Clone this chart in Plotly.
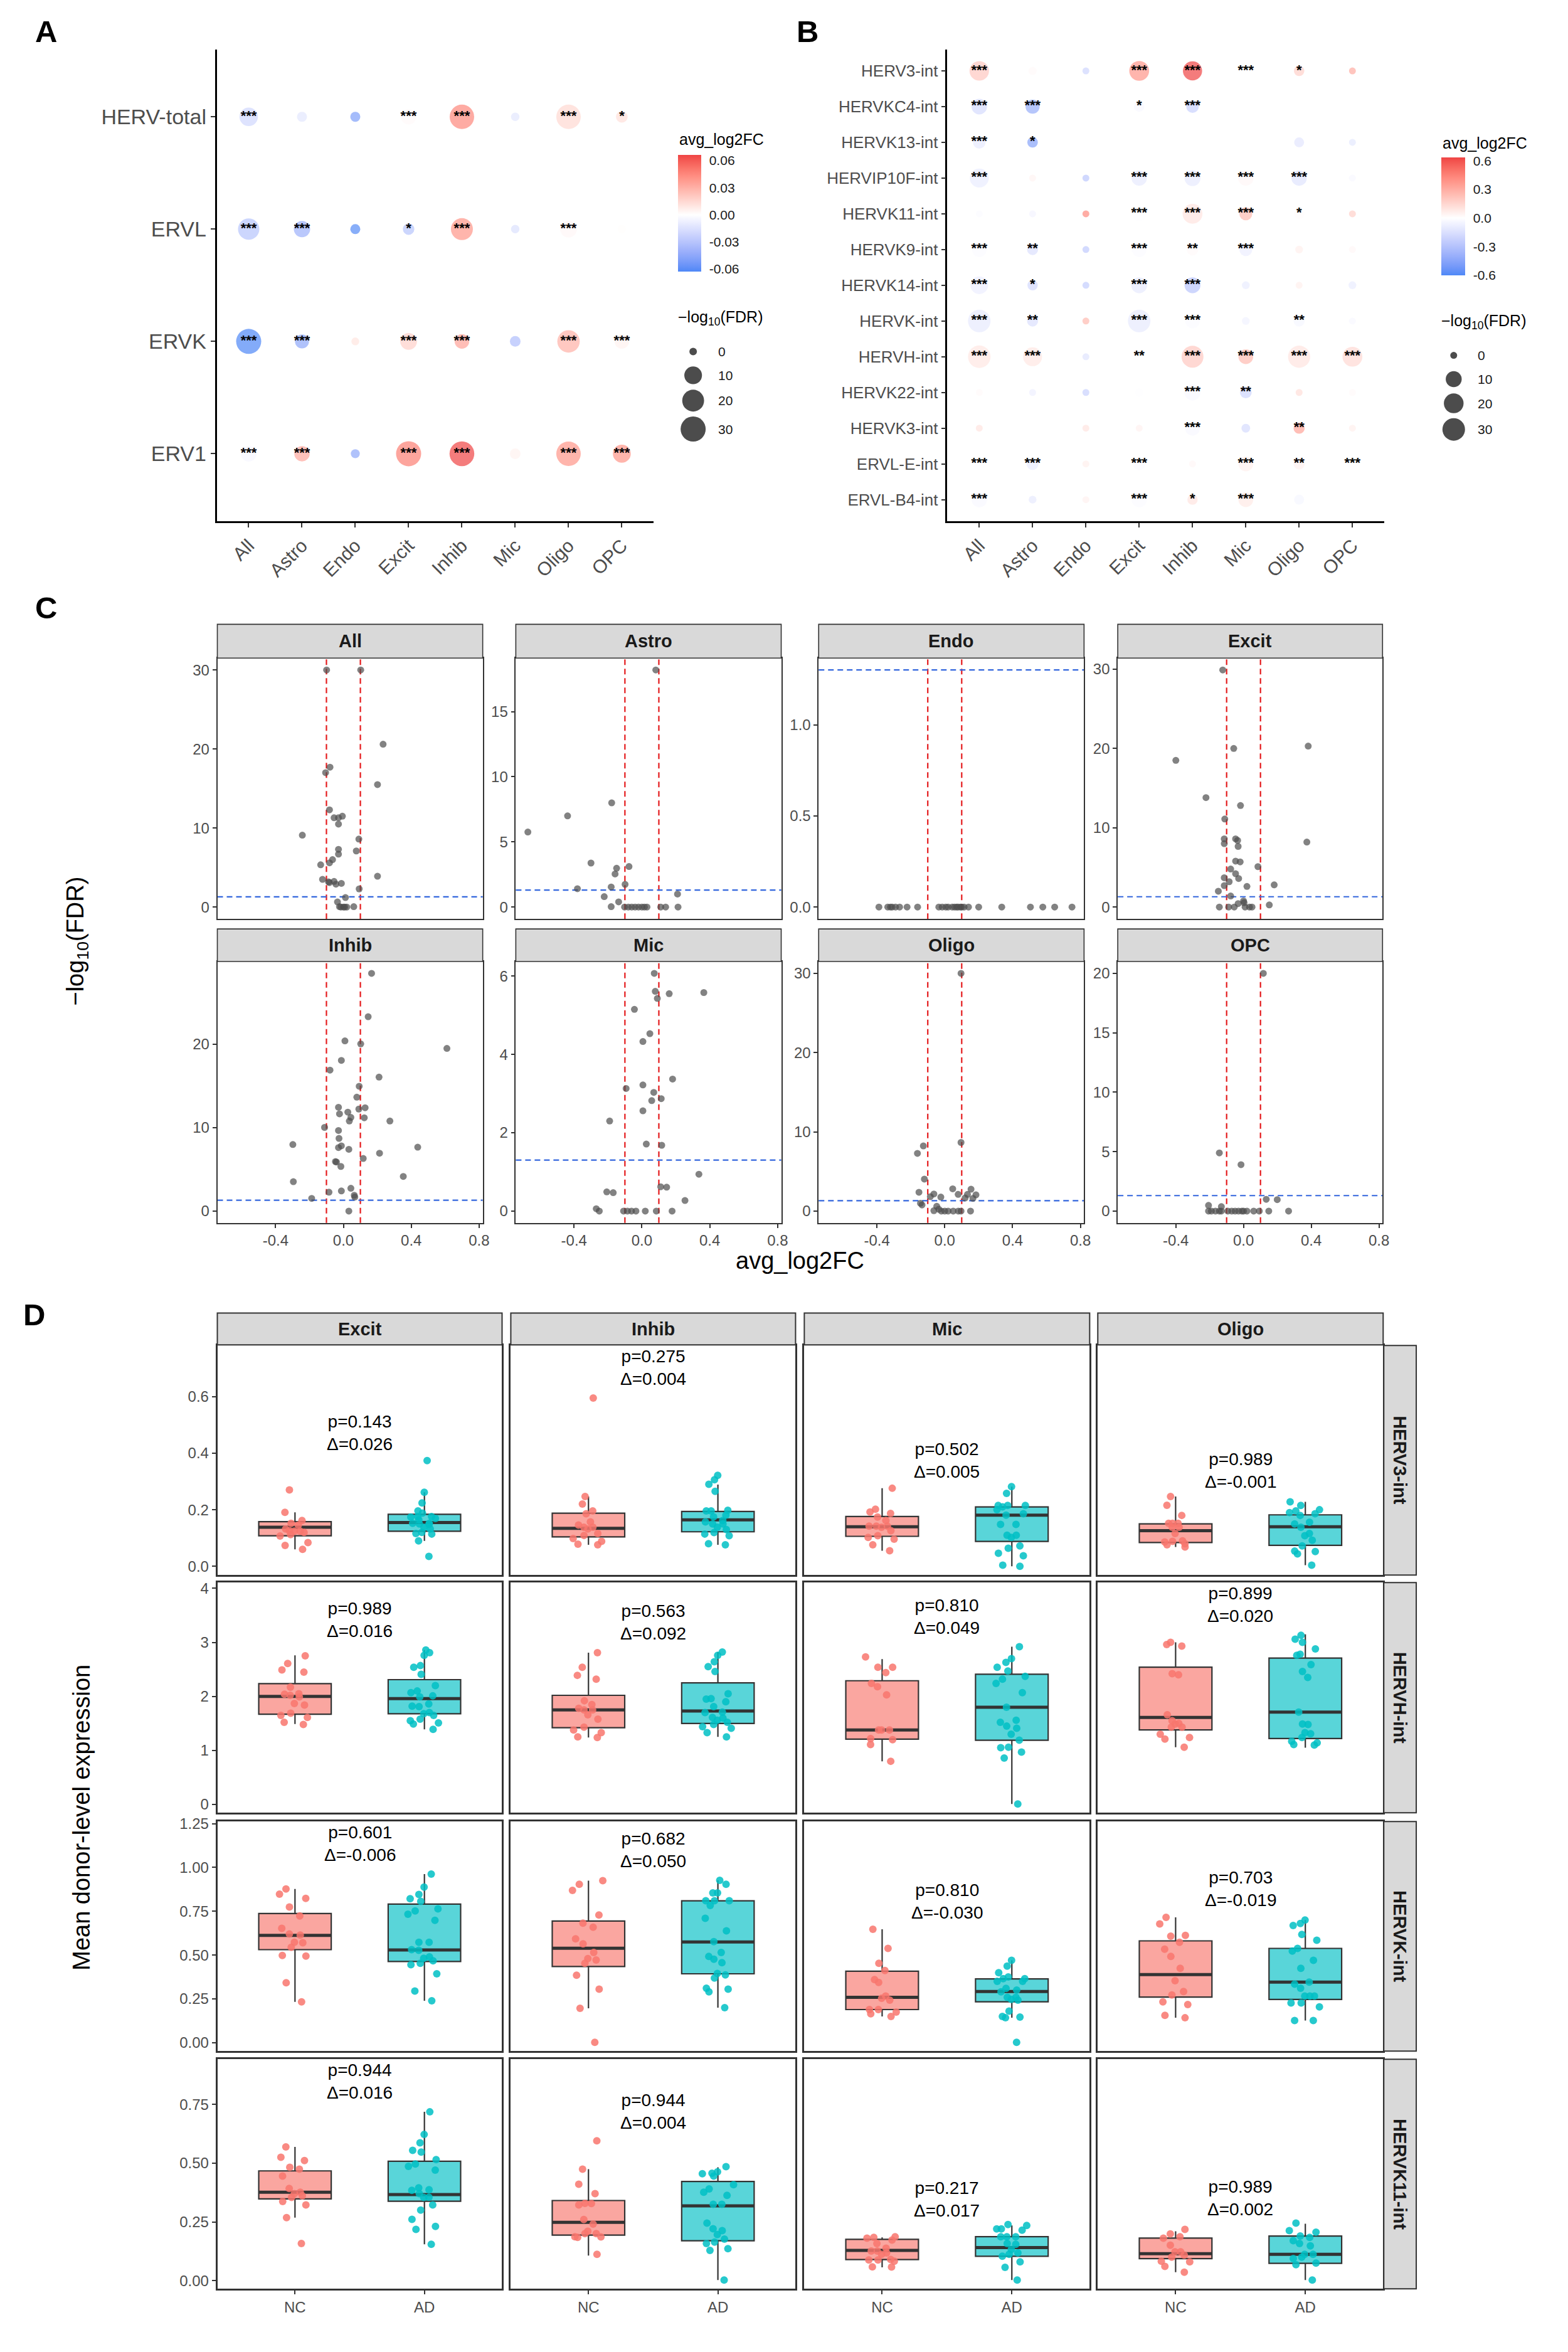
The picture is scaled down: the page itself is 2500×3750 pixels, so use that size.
import numpy as np
import plotly.graph_objects as go

W, H = 2500, 3750
OX, OY = 4, 15   # compensation for page offset
FONT = "Liberation Sans, Arial, Helvetica, sans-serif"
DARK = "#333333"
TICKGRAY = "#4D4D4D"
STRIPTXT = "#1A1A1A"

# ============================ DATA ============================
CELLS = ["All", "Astro", "Endo", "Excit", "Inhib", "Mic", "Oligo", "OPC"]

# ---- Panel A ----
A_families = ["HERV-total", "ERVL", "ERVK", "ERV1"]
A_fc = [
    [-0.020, -0.012, -0.050, 0.002, 0.045, -0.012, 0.015, 0.012],
    [-0.030, -0.040, -0.061, -0.030, 0.040, -0.015, 0.003, 0.001],
    [-0.0628, -0.045, 0.010, 0.018, 0.035, -0.033, 0.030, 0.005],
    [-0.004, 0.033, -0.045, 0.048, 0.0662, 0.005, 0.040, 0.040],
]
A_fdr = [
    [11.7, 0.6, 0.6, 6.0, 27.9, 0.08, 27.9, 1.7],
    [18.5, 7.5, 0.6, 1.5, 20.2, 0.08, 8.4, 0.08],
    [30.0, 4.1, 0.01, 8.4, 4.8, 0.96, 21.5, 4.8],
    [6.5, 6.0, 0.2, 30.0, 28.9, 0.96, 27.9, 10.5],
]
A_sig = [
    ["***", "", "", "***", "***", "", "***", "*"],
    ["***", "***", "", "*", "***", "", "***", ""],
    ["***", "***", "", "***", "***", "", "***", "***"],
    ["***", "***", "", "***", "***", "", "***", "***"],
]
A_fc_ticks = [-0.06, -0.03, 0.0, 0.03, 0.06]
A_fc_ticklabels = ["-0.06", "-0.03", "0.00", "0.03", "0.06"]

# ---- Panel B ----
B_families = ["HERV3-int", "HERVKC4-int", "HERVK13-int", "HERVIP10F-int", "HERVK11-int",
              "HERVK9-int", "HERVK14-int", "HERVK-int", "HERVH-int", "HERVK22-int",
              "HERVK3-int", "ERVL-E-int", "ERVL-B4-int"]
B_fc = [
    [0.20, 0.02, -0.20, 0.38, 0.633, 0.0, 0.17, 0.30],
    [-0.17, -0.40, None, -0.03, -0.22, None, None, None],
    [-0.10, -0.45, None, None, None, None, -0.12, -0.11],
    [-0.09, 0.04, -0.27, -0.10, -0.10, 0.03, -0.13, -0.03],
    [-0.02, -0.05, 0.42, -0.01, 0.10, 0.25, 0.01, 0.17],
    [-0.02, -0.15, -0.25, -0.02, 0.02, -0.08, 0.06, 0.03],
    [-0.08, -0.18, -0.24, -0.10, -0.28, -0.09, 0.06, -0.09],
    [-0.10, -0.15, 0.25, -0.10, -0.02, -0.06, -0.04, -0.03],
    [0.09, 0.09, -0.13, 0.0, 0.20, 0.25, 0.10, 0.14],
    [0.02, -0.07, -0.22, -0.01, -0.03, -0.20, 0.12, 0.02],
    [0.10, 0.0, 0.10, 0.05, -0.03, -0.17, 0.33, 0.06],
    [-0.01, -0.09, 0.06, -0.02, 0.03, 0.06, 0.05, -0.01],
    [-0.03, -0.10, 0.05, -0.02, 0.10, 0.08, -0.04, None],
]
B_fdr = [
    [19.4, 0.2, 0.0, 20.4, 18.4, 6.0, 1.5, 0.0],
    [9.2, 6.3, None, 1.5, 3.9, None, None, None],
    [3.9, 1.6, None, None, None, None, 1.1, 0.0],
    [17.6, 0.0, 0.0, 8.7, 9.9, 8.7, 8.7, 0.0],
    [0.0, 0.0, 0.0, 6.3, 20.4, 4.4, 1.5, 0.0],
    [7.5, 2.13, 0.0, 7.5, 2.85, 4.4, 0.1, 0.0],
    [14.2, 1.4, 0.0, 9.9, 9.9, 0.1, 0.0, 0.1],
    [29.8, 2.13, 0.0, 29.8, 7.5, 0.1, 2.2, 0.0],
    [29.8, 17.6, 0.0, 2.5, 27.5, 7.5, 28.5, 20.4],
    [0.0, 0.0, 0.0, 0.3, 9.9, 2.85, 0.0, 0.0],
    [0.0, 0.0, 0.0, 0.0, 7.5, 0.41, 2.2, 0.0],
    [3.5, 3.2, 0.0, 4.0, 0.0, 7.5, 2.2, 3.2],
    [8.7, 0.1, 0.0, 8.7, 1.4, 7.5, 1.1, None],
]
B_sig = [
    ["***", "", "", "***", "***", "***", "*", ""],
    ["***", "***", None, "*", "***", None, None, None],
    ["***", "*", None, None, None, None, "", ""],
    ["***", "", "", "***", "***", "***", "***", ""],
    ["", "", "", "***", "***", "***", "*", ""],
    ["***", "**", "", "***", "**", "***", "", ""],
    ["***", "*", "", "***", "***", "", "", ""],
    ["***", "**", "", "***", "***", "", "**", ""],
    ["***", "***", "", "**", "***", "***", "***", "***"],
    ["", "", "", "", "***", "**", "", ""],
    ["", "", "", "", "***", "", "**", ""],
    ["***", "***", "", "***", "", "***", "**", "***"],
    ["***", "", "", "***", "*", "***", "", None],
]
B_fc_limits = [-0.6, 0.633]
B_fc_ticks = [-0.6, -0.3, 0.0, 0.3, 0.6]
B_fc_ticklabels = ["-0.6", "-0.3", "0.0", "0.3", "0.6"]

FDR_legend_breaks = [0, 10, 20, 30]

# ---- Panel C (volcano per cell type) ----
C_All_fc = [-0.099, 0.102, 0.234, -0.079, -0.105, 0.201, -0.082, -0.055, -0.029, -0.006, -0.029, -0.242,
            0.091, -0.029, 0.076, -0.029, -0.064, -0.082, -0.134, -0.123, -0.088, -0.055, -0.044, -0.012,
            -0.082, 0.201, 0.093, 0.012, -0.035, -0.023, 0.000, 0.020, 0.061, -0.015, 0.008]
C_All_fdr = [30.0, 30.0, 20.6, 17.7, 17.0, 15.5, 12.3, 11.3, 11.3, 11.5, 10.5, 9.1,
             8.6, 7.3, 7.1, 6.7, 6.0, 5.6, 5.35, 3.5, 3.2, 3.25, 2.9, 3.0,
             3.1, 3.9, 2.3, 1.2, 0.65, 0.05, 0.0, 0.0, 0.05, 0.0, 0.0]
C_Astro_fc = [0.082, -0.178, -0.438, -0.672, -0.300, -0.149, -0.076, -0.158, -0.380, -0.099, -0.181, 0.210,
              -0.222, -0.137, -0.181, -0.102, -0.080, -0.060, -0.040, -0.020, 0.000, 0.015, 0.030, 0.111,
              0.140, 0.213]
C_Astro_fdr = [18.2, 8.0, 7.0, 5.76, 3.38, 2.98, 3.11, 2.54, 1.41, 1.74, 1.54, 1.0,
               0.8, 0.4, 0.03, 0.0, 0.0, 0.0, 0.0, 0.0, 0.0, 0.0, 0.0, 0.0,
               0.0, 0.0]
C_Endo_fc = [-0.388, -0.336, -0.310, -0.290, -0.266, -0.222, -0.160, -0.035, -0.015, 0.006, 0.044, 0.058,
             0.079, 0.093, 0.114, 0.140, 0.200, 0.336, 0.505, 0.578, 0.648, 0.750, -0.320, 0.020,
             0.070, 0.100]
C_Endo_fdr = [0.0, 0.0, 0.0, 0.0, 0.0, 0.0, 0.0, 0.0, 0.0, 0.0, 0.0, 0.0,
              0.0, 0.0, 0.0, 0.0, 0.0, 0.0, 0.0, 0.0, 0.0, 0.0, 0.0, 0.0,
              0.0, 0.0]
C_Excit_fc = [-0.123, 0.382, -0.058, -0.400, -0.222, -0.018, -0.111, -0.114, -0.114, -0.047, -0.035, -0.032,
              0.374, -0.047, -0.020, 0.085, -0.076, -0.047, -0.029, -0.114, -0.085, -0.114, 0.020, 0.181,
              -0.149, -0.076, -0.032, 0.000, 0.003, -0.143, -0.088, -0.055, 0.009, 0.035, 0.050, 0.152]
C_Excit_fdr = [29.9, 20.3, 20.0, 18.5, 13.8, 12.8, 11.1, 8.6, 8.0, 8.6, 8.4, 7.65,
               8.2, 5.8, 5.7, 5.1, 4.8, 4.2, 3.6, 3.7, 3.2, 2.7, 2.6, 2.8,
               2.0, 1.4, 0.44, 0.77, 0.55, 0.0, 0.0, 0.0, 0.0, 0.0, 0.0, 0.27]
C_Inhib_fc = [0.166, 0.146, 0.009, 0.102, 0.610, -0.012, -0.079, 0.210, 0.093, 0.079, -0.029, 0.128,
              0.091, 0.026, -0.023, 0.044, 0.123, 0.035, 0.274, -0.111, -0.029, -0.026, -0.298, -0.012,
              -0.029, 0.032, 0.438, 0.213, 0.117, -0.047, -0.041, -0.015, 0.353, -0.295, 0.044, -0.012,
              -0.085, 0.064, 0.067, -0.187, 0.032]
C_Inhib_fdr = [28.5, 23.3, 20.4, 20.05, 19.5, 18.06, 16.9, 16.06, 14.96, 13.65, 12.44, 12.39,
               12.23, 11.86, 11.65, 11.23, 11.18, 10.8, 10.8, 10.03, 9.66, 8.71, 7.98, 7.82,
               7.61, 7.4, 7.66, 6.93, 6.3, 5.93, 5.88, 5.35, 4.15, 3.52, 2.73, 2.41,
               2.26, 1.89, 1.68, 1.52, 0.0]
C_Mic_fc = [0.073, 0.079, 0.161, 0.365, 0.091, -0.044, 0.047, 0.006, 0.181, -0.093, 0.006, 0.070,
            0.058, 0.114, 0.006, -0.190, 0.026, 0.117, 0.336, 0.111, 0.146, -0.207, -0.169, 0.254,
            -0.269, -0.251, -0.108, -0.085, -0.061, -0.035, 0.020, 0.085, 0.178]
C_Mic_fdr = [6.07, 5.61, 5.55, 5.58, 5.43, 5.15, 4.53, 4.33, 3.37, 3.13, 3.22, 3.03,
             2.82, 2.87, 2.56, 2.3, 1.71, 1.68, 0.94, 0.62, 0.61, 0.49, 0.47, 0.27,
             0.06, 0.0, 0.0, 0.0, 0.0, 0.0, 0.0, 0.0, 0.0]
C_Oligo_fc = [0.096, 0.096, -0.126, -0.161, -0.120, -0.152, 0.047, 0.155, 0.079, -0.064, -0.085, -0.023,
              0.134, 0.120, 0.184, 0.166, -0.143, -0.134, -0.047, -0.064, -0.035, -0.020, 0.000, 0.020,
              0.050, 0.080, 0.096, 0.152]
C_Oligo_fdr = [30.0, 8.66, 8.22, 7.28, 4.03, 2.37, 2.81, 2.76, 2.1, 2.15, 1.82, 1.77,
               2.1, 1.65, 2.04, 1.6, 0.99, 0.77, 0.6, 0.05, 0.22, 0.0, 0.0, 0.0,
               0.0, 0.0, 0.0, 0.0]
C_OPC_fc = [0.117, -0.143, -0.015, 0.134, 0.199, -0.207, -0.131, -0.207, -0.190, -0.166, -0.143, -0.131,
            -0.093, -0.070, -0.050, -0.030, -0.010, 0.000, 0.020, 0.060, 0.093, 0.149, 0.266]
C_OPC_fdr = [20.0, 4.89, 3.9, 0.99, 0.96, 0.48, 0.37, 0.0, 0.0, 0.0, 0.0, 0.0,
             0.0, 0.0, 0.0, 0.0, 0.0, 0.0, 0.0, 0.0, 0.0, 0.0, 0.0]
C_FC_CUT = 0.1
C_FDR_CUT = 0.05
C_x_ticks = [-0.4, 0.0, 0.4, 0.8]
C_x_ticklabels = ["-0.4", "0.0", "0.4", "0.8"]
C_y_dtick = {"All": 10, "Astro": 5, "Endo": 0.5, "Excit": 10, "Inhib": 10, "Mic": 2, "Oligo": 10, "OPC": 5}

# ---- Panel D (donor-level expression) ----
D_genes = ["HERV3-int", "HERVH-int", "HERVK-int", "HERVK11-int"]
D_cells = ["Excit", "Inhib", "Mic", "Oligo"]
D_groups = ["NC", "AD"]

HERV3_NC = {
    "Excit": [0.270, 0.191, 0.162, 0.152, 0.146, 0.132, 0.126, 0.124, 0.124, 0.120, 0.112, 0.107, 0.084, 0.074, 0.060],
    "Inhib": [0.595, 0.247, 0.220, 0.196, 0.186, 0.157, 0.146, 0.138, 0.132, 0.116, 0.098, 0.109, 0.088, 0.076, 0.078, 0.138],
    "Mic": [0.276, 0.202, 0.192, 0.187, 0.174, 0.162, 0.142, 0.142, 0.142, 0.126, 0.108, 0.102, 0.096, 0.076, 0.055, 0.138],
    "Oligo": [0.247, 0.216, 0.180, 0.152, 0.152, 0.152, 0.138, 0.116, 0.090, 0.088, 0.086, 0.080, 0.076, 0.068, 0.138],
}
HERV3_AD = {
    "Excit": [0.374, 0.262, 0.224, 0.196, 0.188, 0.176, 0.169, 0.164, 0.152, 0.152, 0.148, 0.138, 0.132, 0.120,
              0.114, 0.116, 0.090, 0.035, 0.176, 0.150, 0.174],
    "Inhib": [0.322, 0.306, 0.290, 0.265, 0.196, 0.198, 0.196, 0.181, 0.157, 0.175, 0.162, 0.150, 0.130, 0.114,
              0.119, 0.138, 0.080, 0.076, 0.108, 0.150],
    "Mic": [0.282, 0.258, 0.215, 0.215, 0.215, 0.210, 0.200, 0.186, 0.181, 0.148, 0.148, 0.110, 0.110, 0.102,
            0.072, 0.064, 0.046, 0.037, 0.004, 0.000],
    "Oligo": [0.228, 0.215, 0.200, 0.196, 0.190, 0.180, 0.156, 0.138, 0.116, 0.108, 0.092, 0.072, 0.054, 0.044,
              0.052, 0.004, 0.186, 0.150],
}
# box stats: [q1, median, q3, lower whisker, upper whisker]
HERV3_NC_box = {"Excit": [0.108, 0.138, 0.158, 0.060, 0.191], "Inhib": [0.104, 0.134, 0.188, 0.076, 0.247],
                "Mic": [0.106, 0.140, 0.176, 0.055, 0.276], "Oligo": [0.084, 0.126, 0.150, 0.068, 0.247]}
HERV3_AD_box = {"Excit": [0.124, 0.155, 0.184, 0.090, 0.262], "Inhib": [0.122, 0.164, 0.194, 0.076, 0.289],
                "Mic": [0.088, 0.181, 0.210, 0.000, 0.282], "Oligo": [0.074, 0.140, 0.182, 0.004, 0.228]}

HERVH_NC = {
    "Excit": [2.75, 2.61, 2.49, 2.45, 2.17, 2.05, 2.04, 2.02, 1.99, 1.87, 1.84, 1.69, 1.65, 1.61, 1.52, 1.48],
    "Inhib": [2.81, 2.54, 2.39, 2.32, 1.92, 1.85, 1.78, 1.75, 1.75, 1.66, 1.58, 1.43, 1.38, 1.33, 1.25, 1.24],
    "Mic": [2.73, 2.54, 2.54, 2.44, 2.24, 2.18, 2.03, 1.38, 1.38, 1.38, 1.22, 1.20, 1.11, 0.80],
    "Oligo": [3.00, 2.96, 2.93, 2.42, 2.40, 1.66, 1.55, 1.50, 1.43, 1.30, 1.24, 1.21, 1.06, 1.43, 1.49],
}
HERVH_AD = {
    "Excit": [2.86, 2.81, 2.76, 2.57, 2.54, 2.41, 2.20, 2.10, 2.07, 1.99, 2.01, 1.86, 1.81, 1.82, 1.70, 1.68,
              1.65, 1.58, 1.55, 1.51, 1.39, 1.49],
    "Inhib": [2.82, 2.76, 2.64, 2.55, 2.46, 2.05, 1.95, 1.96, 1.90, 1.81, 1.71, 1.70, 1.60, 1.56, 1.52, 1.48,
              1.44, 1.41, 1.33, 1.25, 1.61],
    "Mic": [2.92, 2.70, 2.63, 2.54, 2.47, 2.37, 2.32, 2.24, 2.07, 1.80, 1.56, 1.45, 1.41, 1.30, 1.19, 1.05,
            1.06, 0.97, 0.86, 0.01, 1.52],
    "Oligo": [3.13, 3.06, 3.00, 2.88, 2.78, 2.76, 2.59, 2.46, 2.35, 1.71, 1.49, 1.48, 1.33, 1.31, 1.14, 1.11,
              1.10, 1.17, 1.24],
}
HERVH_NC_box = {"Excit": [1.67, 2.00, 2.236, 1.49, 2.76], "Inhib": [1.42, 1.75, 2.02, 1.24, 2.81],
                "Mic": [1.21, 1.38, 2.29, 0.80, 2.69], "Oligo": [1.38, 1.61, 2.54, 1.06, 3.00]}
HERVH_AD_box = {"Excit": [1.68, 1.96, 2.31, 1.39, 2.86], "Inhib": [1.50, 1.73, 2.25, 1.25, 2.82],
                "Mic": [1.19, 1.80, 2.41, 0.01, 2.92], "Oligo": [1.22, 1.71, 2.71, 1.05, 3.15]}

HERVK_NC = {
    "Excit": [0.877, 0.848, 0.824, 0.774, 0.723, 0.653, 0.620, 0.614, 0.573, 0.570, 0.544, 0.494, 0.498, 0.342, 0.233],
    "Inhib": [0.925, 0.904, 0.869, 0.729, 0.682, 0.659, 0.593, 0.564, 0.515, 0.480, 0.472, 0.453, 0.385, 0.305,
              0.196, 0.002],
    "Mic": [0.647, 0.538, 0.453, 0.412, 0.344, 0.360, 0.266, 0.253, 0.189, 0.189, 0.165, 0.150, 0.175, 0.243],
    "Oligo": [0.715, 0.678, 0.612, 0.608, 0.573, 0.534, 0.492, 0.424, 0.354, 0.292, 0.272, 0.233, 0.218, 0.142, 0.156],
}
HERVK_AD = {
    "Excit": [0.962, 0.888, 0.846, 0.807, 0.822, 0.764, 0.752, 0.733, 0.698, 0.573, 0.573, 0.531, 0.527, 0.490,
              0.482, 0.467, 0.453, 0.445, 0.393, 0.295, 0.239],
    "Inhib": [0.927, 0.904, 0.855, 0.855, 0.810, 0.810, 0.810, 0.783, 0.710, 0.638, 0.577, 0.515, 0.492, 0.476,
              0.457, 0.395, 0.387, 0.369, 0.305, 0.311, 0.290, 0.200],
    "Mic": [0.470, 0.437, 0.399, 0.365, 0.365, 0.375, 0.350, 0.350, 0.290, 0.300, 0.310, 0.259, 0.247, 0.259,
            0.243, 0.180, 0.146, 0.150, 0.142, 0.002],
    "Oligo": [0.700, 0.680, 0.669, 0.618, 0.585, 0.538, 0.523, 0.470, 0.424, 0.346, 0.334, 0.311, 0.266, 0.266,
              0.266, 0.227, 0.227, 0.204, 0.126, 0.126],
}
HERVK_NC_box = {"Excit": [0.531, 0.612, 0.737, 0.233, 0.877], "Inhib": [0.435, 0.539, 0.694, 0.196, 0.925],
                "Mic": [0.189, 0.259, 0.408, 0.150, 0.647], "Oligo": [0.260, 0.389, 0.581, 0.142, 0.715]}
HERVK_AD_box = {"Excit": [0.463, 0.529, 0.791, 0.239, 0.962], "Inhib": [0.393, 0.575, 0.810, 0.200, 0.927],
                "Mic": [0.233, 0.292, 0.364, 0.142, 0.470], "Oligo": [0.247, 0.346, 0.538, 0.126, 0.700]}

HERVK11_NC = {
    "Excit": [0.569, 0.525, 0.511, 0.482, 0.474, 0.445, 0.392, 0.370, 0.376, 0.354, 0.337, 0.322, 0.268, 0.158, 0.361],
    "Inhib": [0.595, 0.474, 0.410, 0.370, 0.328, 0.329, 0.322, 0.260, 0.241, 0.210, 0.200, 0.200, 0.187, 0.184,
              0.186, 0.112],
    "Mic": [0.187, 0.181, 0.184, 0.173, 0.158, 0.138, 0.126, 0.118, 0.126, 0.112, 0.090, 0.088, 0.088, 0.083,
            0.058, 0.059],
    "Oligo": [0.218, 0.199, 0.187, 0.181, 0.151, 0.123, 0.123, 0.109, 0.100, 0.083, 0.080, 0.061, 0.036],
}
HERVK11_AD = {
    "Excit": [0.718, 0.622, 0.586, 0.554, 0.547, 0.515, 0.496, 0.486, 0.470, 0.395, 0.384, 0.370, 0.354, 0.355,
              0.322, 0.300, 0.261, 0.231, 0.218, 0.155, 0.387],
    "Inhib": [0.485, 0.457, 0.445, 0.463, 0.455, 0.408, 0.390, 0.376, 0.363, 0.325, 0.325, 0.245, 0.221, 0.213,
              0.196, 0.177, 0.164, 0.158, 0.129, 0.136, 0.003],
    "Mic": [0.239, 0.235, 0.220, 0.220, 0.215, 0.187, 0.187, 0.187, 0.158, 0.155, 0.112, 0.118, 0.104, 0.133,
            0.080, 0.057, 0.003],
    "Oligo": [0.245, 0.213, 0.206, 0.190, 0.184, 0.170, 0.158, 0.148, 0.112, 0.094, 0.075, 0.112, 0.100, 0.003, 0.068],
}
HERVK11_NC_box = {"Excit": [0.348, 0.376, 0.467, 0.268, 0.569], "Inhib": [0.194, 0.248, 0.341, 0.107, 0.474],
                  "Mic": [0.090, 0.129, 0.176, 0.057, 0.184], "Oligo": [0.094, 0.115, 0.181, 0.036, 0.210]}
HERVK11_AD_box = {"Excit": [0.338, 0.366, 0.508, 0.155, 0.718], "Inhib": [0.170, 0.318, 0.422, 0.003, 0.482],
                  "Mic": [0.104, 0.141, 0.187, 0.003, 0.235], "Oligo": [0.074, 0.112, 0.190, 0.003, 0.242]}

D_p = {"HERV3-int": ["0.143", "0.275", "0.502", "0.989"],
       "HERVH-int": ["0.989", "0.563", "0.810", "0.899"],
       "HERVK-int": ["0.601", "0.682", "0.810", "0.703"],
       "HERVK11-int": ["0.944", "0.944", "0.217", "0.989"]}
D_delta = {"HERV3-int": ["0.026", "0.004", "0.005", "-0.001"],
           "HERVH-int": ["0.016", "0.092", "0.049", "0.020"],
           "HERVK-int": ["-0.006", "0.050", "-0.030", "-0.019"],
           "HERVK11-int": ["0.016", "0.004", "0.017", "0.002"]}

# assembled lookup tables built from the arrays above
D_points = {"HERV3-int": (HERV3_NC, HERV3_AD), "HERVH-int": (HERVH_NC, HERVH_AD),
            "HERVK-int": (HERVK_NC, HERVK_AD), "HERVK11-int": (HERVK11_NC, HERVK11_AD)}
D_boxes = {"HERV3-int": (HERV3_NC_box, HERV3_AD_box), "HERVH-int": (HERVH_NC_box, HERVH_AD_box),
           "HERVK-int": (HERVK_NC_box, HERVK_AD_box), "HERVK11-int": (HERVK11_NC_box, HERVK11_AD_box)}
C_data = {"All": (C_All_fc, C_All_fdr), "Astro": (C_Astro_fc, C_Astro_fdr), "Endo": (C_Endo_fc, C_Endo_fdr),
          "Excit": (C_Excit_fc, C_Excit_fdr), "Inhib": (C_Inhib_fc, C_Inhib_fdr), "Mic": (C_Mic_fc, C_Mic_fdr),
          "Oligo": (C_Oligo_fc, C_Oligo_fdr), "OPC": (C_OPC_fc, C_OPC_fdr)}

# ============================ STYLE / GEOMETRY ============================
LOW_COL, HIGH_COL = "#3B82F6", "#EF4444"
_M = np.array([[0.4124564, 0.3575761, 0.1804375],
               [0.2126729, 0.7151522, 0.0721750],
               [0.0193339, 0.1191920, 0.9503041]])
_MINV = np.linalg.inv(_M)
_WP = np.array([0.95047, 1.0, 1.08883])


def _hex2rgb(h):
    h = h.lstrip("#")
    return np.array([int(h[i:i + 2], 16) for i in (0, 2, 4)]) / 255.0


def _rgb2lab(rgb):
    c = np.where(rgb <= 0.04045, rgb / 12.92, ((rgb + 0.055) / 1.055) ** 2.4)
    t = (_M @ c) / _WP
    d = 6 / 29
    f = np.where(t > d ** 3, np.cbrt(t), t / (3 * d * d) + 4 / 29)
    return np.array([116 * f[1] - 16, 500 * (f[0] - f[1]), 200 * (f[1] - f[2])])


def _lab2rgb(lab):
    L, a, b = lab
    fy = (L + 16) / 116
    f = np.array([fy + a / 500, fy, fy - b / 200])
    d = 6 / 29
    t = np.where(f > d, f ** 3, 3 * d * d * (f - 4 / 29))
    c = np.clip(_MINV @ (t * _WP), 0, 1)
    return np.where(c <= 0.0031308, 12.92 * c, 1.055 * c ** (1 / 2.4) - 0.055)


_WHITE_LAB = _rgb2lab(np.array([1.0, 1.0, 1.0]))


def grad2(v, maxabs):
    t = max(-1.0, min(1.0, v / maxabs))
    end = _rgb2lab(_hex2rgb(LOW_COL if t < 0 else HIGH_COL))
    rgb = _lab2rgb(_WHITE_LAB + (end - _WHITE_LAB) * abs(t))
    r, g, b = np.round(rgb * 255).astype(int)
    return f"rgb({r},{g},{b})"


def gradient2_scale(cmin, cmax):
    maxabs = max(abs(cmin), abs(cmax))
    vals = np.unique(np.concatenate([np.linspace(cmin, cmax, 41), [0.0]]))
    return [[float((v - cmin) / (cmax - cmin)), grad2(v, maxabs)] for v in vals]


def dot_diam(v, dmin, dmax, vmax=30.0):
    return dmin + (dmax - dmin) * np.sqrt(np.clip(v, 0, vmax) / vmax)


def PX(x):
    return (x - OX) / W


def PY(y):
    return 1 - (y - OY) / H


layout = dict(width=W, height=H, autosize=False, margin=dict(l=0, r=0, t=0, b=0, pad=0),
              paper_bgcolor="white", plot_bgcolor="rgba(0,0,0,0)", showlegend=False,
              boxmode="overlay", font=dict(family=FONT, color="black"))
annotations = []
shapes = []
traces = []
_axn = [0]


def new_axes(xd, yd, xkw, ykw, raw=False):
    _axn[0] += 1
    n = _axn[0]
    s = "" if n == 1 else str(n)
    base = dict(showgrid=False, zeroline=False, fixedrange=True)
    if raw:
        xdom, ydom = [0, 1], [0, 1]
    else:
        xdom = [PX(xd[0]), PX(xd[1])]
        ydom = [PY(yd[1]), PY(yd[0])]
    layout["xaxis" + s] = dict(domain=xdom, anchor="y" + s, **base, **xkw)
    layout["yaxis" + s] = dict(domain=ydom, anchor="x" + s, **base, **ykw)
    return "x" + s, "y" + s


def text(x, y, s, size, xanchor="center", yanchor="middle", angle=0, color="black"):
    annotations.append(dict(x=PX(x), y=PY(y), xref="paper", yref="paper", text=s, showarrow=False,
                            xanchor=xanchor, yanchor=yanchor, textangle=angle,
                            font=dict(family=FONT, size=size, color=color)))


def rect(x0, y0, x1, y1, fill, lw=1.6):
    shapes.append(dict(type="rect", xref="paper", yref="paper", x0=PX(x0), x1=PX(x1), y0=PY(y1), y1=PY(y0),
                       fillcolor=fill, line=dict(color=DARK, width=lw), layer="above"))


# ============================ PANELS A & B ============================
def dot_panel(families, fc, fdr, sig, xdom, ydom, ylabsize, climits, cticks, cticklabels,
              dmin, dmax, cbar_px):
    nrow = len(families)
    xa, ya = new_axes(
        xdom, ydom,
        dict(range=[-0.6, len(CELLS) - 1 + 0.6], tickmode="array", tickvals=list(range(len(CELLS))),
             ticktext=CELLS, tickangle=-45, tickfont=dict(size=30, color=TICKGRAY, family=FONT),
             showline=True, linecolor="black", linewidth=2.5, ticks="outside", ticklen=7, tickwidth=2,
             tickcolor=DARK),
        dict(range=[nrow - 1 + 0.6, -0.6], tickmode="array", tickvals=list(range(nrow)), ticktext=families,
             tickfont=dict(size=ylabsize, color=TICKGRAY, family=FONT), showline=True, linecolor="black",
             linewidth=2.5, ticks="outside", ticklen=7, tickwidth=2, tickcolor=DARK))
    xs, ys, cs, ss, tx, ty, tt = [], [], [], [], [], [], []
    for i in range(nrow):
        for j in range(len(CELLS)):
            if fc[i][j] is None:
                continue
            xs.append(j)
            ys.append(i)
            cs.append(fc[i][j])
            ss.append(float(dot_diam(fdr[i][j], dmin, dmax)))
            if sig[i][j]:
                tx.append(j)
                ty.append(i)
                tt.append("<b>" + sig[i][j] + "</b>")
    cmin, cmax = climits
    cb = dict(x=PX(cbar_px[0]), xanchor="left", y=PY((cbar_px[1] + cbar_px[2]) / 2), yanchor="middle",
              len=cbar_px[2] - cbar_px[1], lenmode="pixels", thickness=cbar_px[3], thicknessmode="pixels",
              outlinewidth=0, tickmode="array", tickvals=cticks, ticktext=cticklabels,
              tickfont=dict(size=21, color=STRIPTXT, family=FONT), ticks="outside", ticklen=9,
              tickcolor="rgba(255,255,255,0)", tickwidth=1, xpad=0, ypad=0, title=dict(text=""))
    traces.append(go.Scatter(x=xs, y=ys, mode="markers", xaxis=xa, yaxis=ya, hoverinfo="skip",
                             marker=dict(size=ss, color=cs, colorscale=gradient2_scale(cmin, cmax),
                                         cmin=cmin, cmax=cmax, line=dict(width=0), showscale=True,
                                         colorbar=cb)))
    traces.append(go.Scatter(x=tx, y=ty, text=tt, mode="text", xaxis=xa, yaxis=ya, hoverinfo="skip",
                             textposition="middle center",
                             textfont=dict(size=22, color="black", family=FONT)))


a_cmin = min(v for row in A_fc for v in row)
a_cmax = max(v for row in A_fc for v in row)
dot_panel(A_families, A_fc, A_fdr, A_sig, (343, 1043), (76, 830), 34, (a_cmin, a_cmax),
          A_fc_ticks, A_fc_ticklabels, 12, 40, (1082, 245, 431, 37))
dot_panel(B_families, B_fc, B_fdr, B_sig, (1513, 2213), (76, 830), 26, tuple(B_fc_limits),
          B_fc_ticks, B_fc_ticklabels, 11, 36, (2304, 249, 437, 38))

# size legends (overlay axis in page-pixel units)
lx, ly = new_axes(None, None, dict(range=[OX, W + OX], visible=False),
                  dict(range=[H + OY, OY], visible=False), raw=True)
for (x0, ytop, dmin, dmax, labx) in [(1106, 540, 12, 40, 1144), (2324, 546, 11, 36, 2360)]:
    dd = [float(dot_diam(b, dmin, dmax)) for b in FDR_legend_breaks]
    centers, cur = [], ytop
    for d in dd:
        hgt = max(d + 8, 38)
        centers.append(cur + hgt / 2)
        cur += hgt
    traces.append(go.Scatter(x=[x0] * len(dd), y=centers, mode="markers", xaxis=lx, yaxis=ly,
                             hoverinfo="skip", marker=dict(size=dd, color="black", line=dict(width=0))))
    for b, cy in zip(FDR_legend_breaks, centers):
        text(labx, cy, str(b), 21, xanchor="left", color=STRIPTXT)

text(1082, 220, "avg_log2FC", 25, xanchor="left")
text(2304, 226, "avg_log2FC", 25, xanchor="left")
text(1080, 505, "\u2212log<sub>10</sub>(FDR)", 25, xanchor="left")
text(2302, 511, "\u2212log<sub>10</sub>(FDR)", 25, xanchor="left")

# ============================ PANEL C ============================
C_cols = [(344, 769), (822, 1247), (1307, 1732), (1786, 2210)]
C_panels = [(1049, 1466), (1534, 1952)]
C_strips = [(995, 1049), (1482, 1534)]
fdr_line = -np.log10(C_FDR_CUT)
all_fc = np.concatenate([np.array(C_data[c][0]) for c in CELLS])
xr = all_fc.max() - all_fc.min()
c_xrange = [all_fc.min() - 0.05 * xr, all_fc.max() + 0.05 * xr]
for k, cell in enumerate(CELLS):
    r, c = divmod(k, 4)
    fc, fdr = np.array(C_data[cell][0]), np.array(C_data[cell][1])
    lo = min(0.0, fdr.min())
    hi = max(fdr.max(), fdr_line)
    yr = hi - lo
    bottom = (r == 1)
    xa, ya = new_axes(
        C_cols[c], C_panels[r],
        dict(range=c_xrange, tickmode="array", tickvals=C_x_ticks, ticktext=C_x_ticklabels,
             showticklabels=bottom, ticks="outside" if bottom else "", ticklen=6, tickwidth=1.5,
             tickcolor=DARK, tickfont=dict(size=24, color=TICKGRAY, family=FONT),
             showline=True, mirror=True, linecolor=DARK, linewidth=1.6),
        dict(range=[lo - 0.05 * yr, hi + 0.05 * yr], tick0=0, dtick=C_y_dtick[cell],
             tickformat=".1f" if C_y_dtick[cell] < 1 else "d", ticks="outside", ticklen=6, tickwidth=1.5,
             tickcolor=DARK, tickfont=dict(size=24, color=TICKGRAY, family=FONT),
             showline=True, mirror=True, linecolor=DARK, linewidth=1.6))
    for xv in (-C_FC_CUT, C_FC_CUT):
        shapes.append(dict(type="line", xref=xa, yref=ya + " domain", x0=xv, x1=xv, y0=0, y1=1,
                           line=dict(color="#E41A1C", width=2.2, dash="9px,6px"), layer="below"))
    shapes.append(dict(type="line", xref=xa + " domain", yref=ya, x0=0, x1=1, y0=fdr_line, y1=fdr_line,
                       line=dict(color="#3366DD", width=2.2, dash="9px,6px"), layer="below"))
    traces.append(go.Scatter(x=fc, y=fdr, mode="markers", xaxis=xa, yaxis=ya, hoverinfo="skip",
                             marker=dict(size=11, color="rgba(77,77,77,0.7)", line=dict(width=0))))
    sx0, sx1 = C_cols[c]
    sy0, sy1 = C_strips[r]
    rect(sx0, sy0, sx1, sy1, "#D9D9D9", 1.6)
    text((sx0 + sx1) / 2, (sy0 + sy1) / 2, f"<b>{cell}</b>", 29, color=STRIPTXT)

text(1277, 2012, "avg_log2FC", 38)
text(120, 1501, "\u2212log<sub>10</sub>(FDR)", 38, angle=-90)

# ============================ PANEL D ============================
D_cols = [(344, 800), (814, 1270), (1284, 1741), (1754, 2211)]
D_rows = [(2148, 2515), (2527, 2895), (2909, 3276), (3289, 3656)]
D_strip_top = (2096, 2147)
D_strip_right = (2212, 2264)
D_tick = {"HERV3-int": (0.2, ".1f"), "HERVH-int": (1, "d"), "HERVK-int": (0.25, ".2f"),
          "HERVK11-int": (0.25, ".2f")}
BOXW = 0.56
FILL = {"NC": "rgba(248,118,109,0.65)", "AD": "rgba(0,191,196,0.65)"}
PTCOL = {"NC": "#F8766D", "AD": "#00BFC4"}

for r, gene in enumerate(D_genes):
    nc_pts, ad_pts = D_points[gene]
    nc_box, ad_box = D_boxes[gene]
    lab_y = [1.05 * max(nc_pts[c] + ad_pts[c]) for c in D_cells]
    row_min = min(min(nc_pts[c] + ad_pts[c]) for c in D_cells)
    top = max(lab_y)
    rr = top - row_min
    yrange = [row_min - 0.05 * rr, top + 0.25 * rr]
    dt, fmt = D_tick[gene]
    for c, cell in enumerate(D_cells):
        left = (c == 0)
        bottom = (r == len(D_genes) - 1)
        xa, ya = new_axes(
            D_cols[c], D_rows[r],
            dict(range=[-0.6, 1.6], tickmode="array", tickvals=[0, 1], ticktext=D_groups,
                 showticklabels=bottom, ticks="outside" if bottom else "", ticklen=6, tickwidth=1.5,
                 tickcolor=DARK, tickfont=dict(size=24, color=TICKGRAY, family=FONT),
                 showline=True, mirror=True, linecolor=DARK, linewidth=2.5),
            dict(range=yrange, tick0=0, dtick=dt, tickformat=fmt, showticklabels=left,
                 ticks="outside" if left else "", ticklen=6, tickwidth=1.5, tickcolor=DARK,
                 tickfont=dict(size=24, color=TICKGRAY, family=FONT),
                 showline=True, mirror=True, linecolor=DARK, linewidth=2.5))
        for gi, (grp, pts, box) in enumerate([("NC", nc_pts[cell], nc_box[cell]),
                                               ("AD", ad_pts[cell], ad_box[cell])]):
            q1, med, q3, wlo, whi = box
            traces.append(go.Box(x=[gi], q1=[q1], median=[med], q3=[q3], lowerfence=[wlo], upperfence=[whi],
                                 width=BOXW, whiskerwidth=0, boxpoints=False, fillcolor=FILL[grp],
                                 line=dict(color=DARK, width=2.2), xaxis=xa, yaxis=ya, hoverinfo="skip"))
            traces.append(go.Box(x=[gi], q1=[med], median=[med], q3=[med], lowerfence=[med], upperfence=[med],
                                 width=BOXW, whiskerwidth=0, boxpoints=False, fillcolor="rgba(0,0,0,0)",
                                 line=dict(color=DARK, width=5), xaxis=xa, yaxis=ya, hoverinfo="skip"))
            traces.append(go.Box(x=[gi] * len(pts), y=pts, width=BOXW, boxpoints="all", jitter=0.5,
                                 pointpos=0, fillcolor="rgba(0,0,0,0)",
                                 line=dict(color="rgba(0,0,0,0)", width=0), whiskerwidth=0,
                                 marker=dict(color=PTCOL[grp], size=12, opacity=0.85, line=dict(width=0)),
                                 xaxis=xa, yaxis=ya, hoverinfo="skip"))
        annotations.append(dict(x=0.5, y=lab_y[c], xref=xa, yref=ya, showarrow=False, xanchor="center",
                                yanchor="bottom",
                                text=f"p={D_p[gene][c]}<br>\u0394={D_delta[gene][c]}",
                                font=dict(family=FONT, size=28, color="black")))
        if r == 0:
            sx0, sx1 = D_cols[c]
            rect(sx0, D_strip_top[0], sx1, D_strip_top[1], "#D9D9D9", 2.0)
            text((sx0 + sx1) / 2, sum(D_strip_top) / 2, f"<b>{cell}</b>", 29, color=STRIPTXT)
    ry0, ry1 = D_rows[r]
    rect(D_strip_right[0], ry0, D_strip_right[1], ry1, "#D9D9D9", 2.0)
    text(sum(D_strip_right) / 2, (ry0 + ry1) / 2, f"<b>{gene}</b>", 29, angle=90, color=STRIPTXT)

text(127, 2902, "Mean donor-level expression", 38, angle=-90)

# ============================ PANEL LETTERS ============================
text(70, 47, "<b>A</b>", 49)
text(1289, 47, "<b>B</b>", 49)
text(70, 969, "<b>C</b>", 49)
text(51, 2099, "<b>D</b>", 49)

layout["annotations"] = annotations
layout["shapes"] = shapes
fig = go.Figure(data=traces, layout=layout)
fig.update_traces(showlegend=False)
fig.write_html("out.html")
